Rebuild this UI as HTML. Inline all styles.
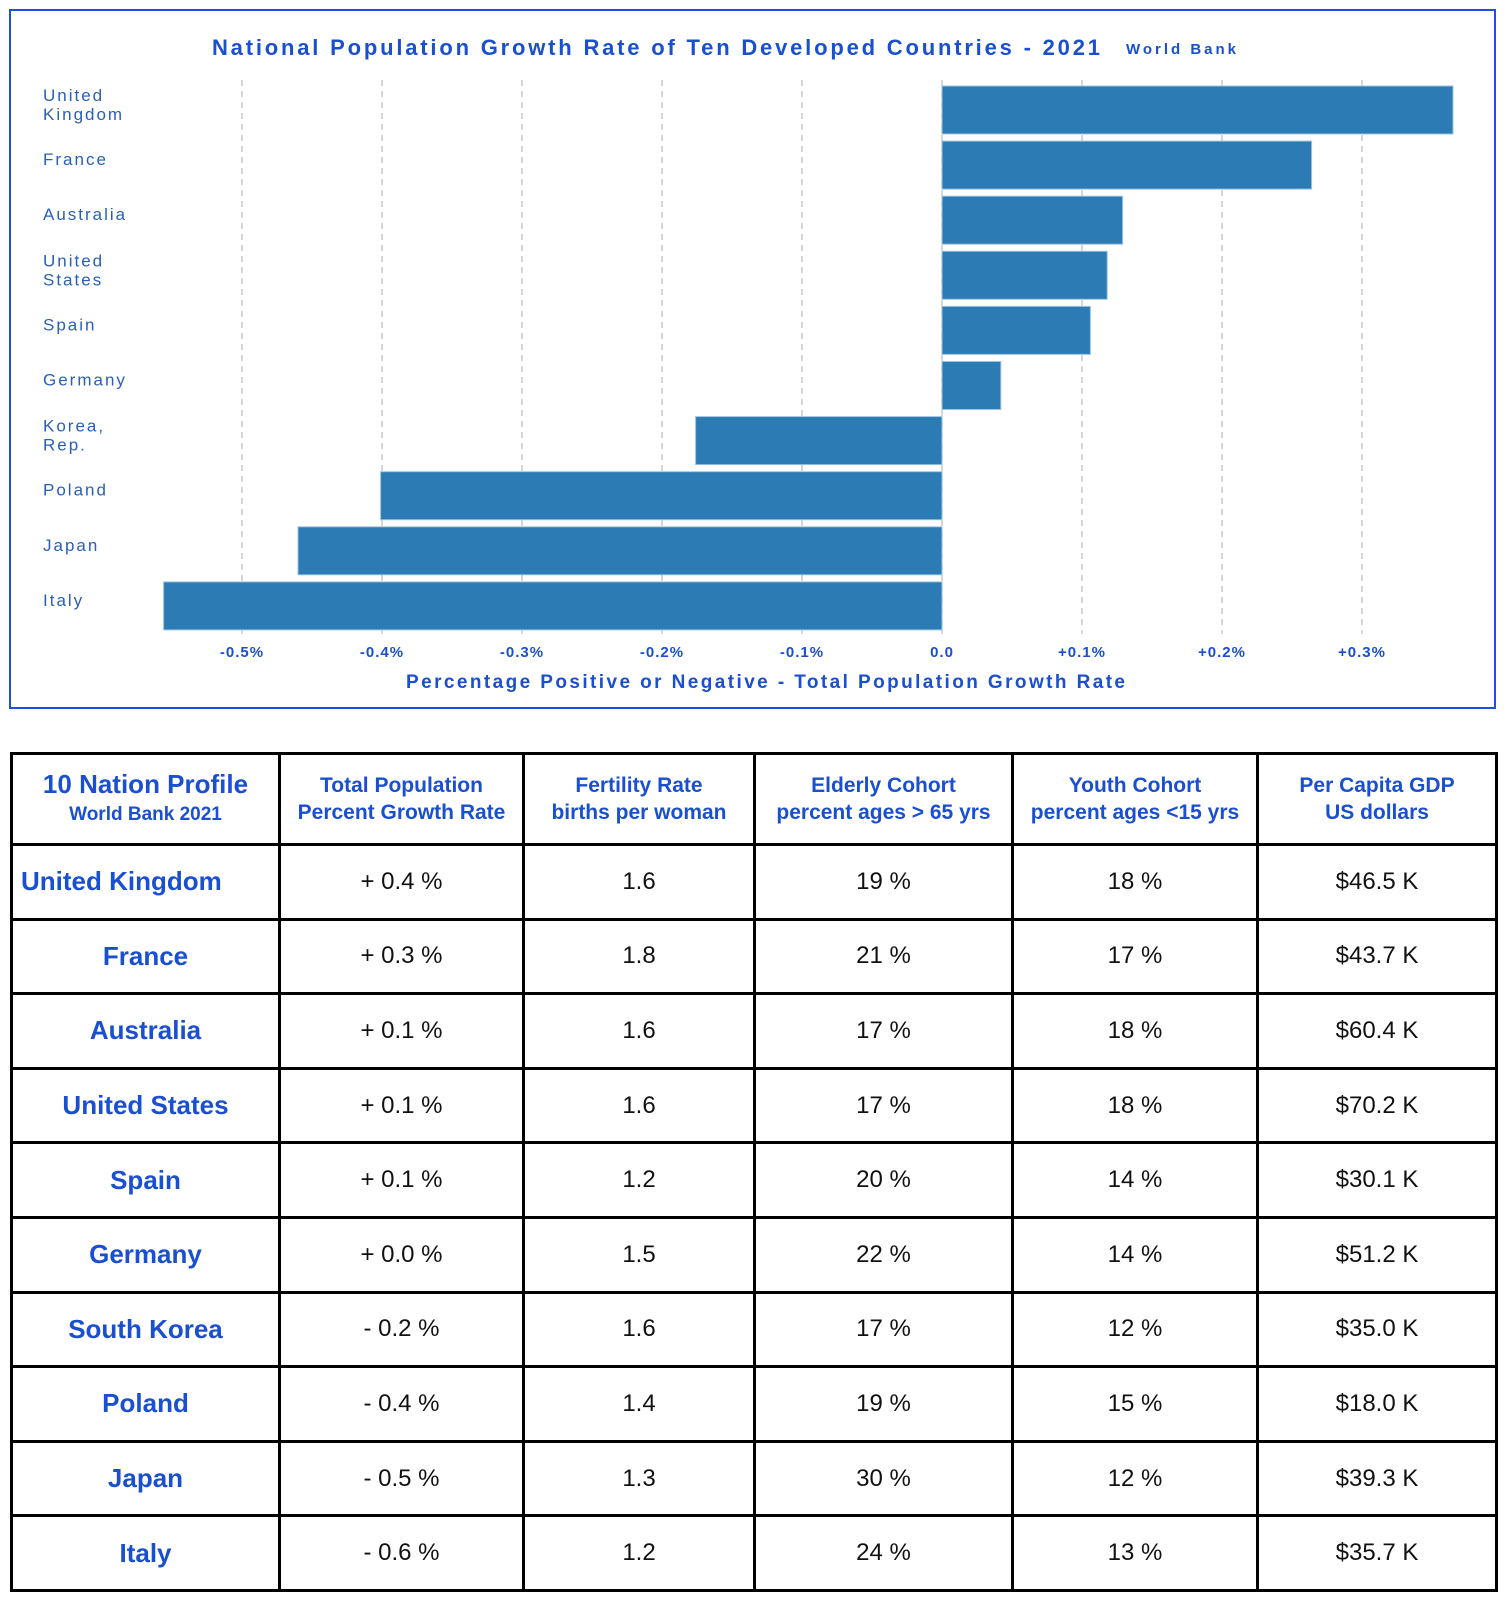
<!DOCTYPE html>
<html><head><meta charset="utf-8">
<style>
body{margin:0;width:1509px;height:1600px;background:#fff;position:relative;overflow:hidden;font-family:"Liberation Sans",sans-serif;}
#frame{position:absolute;left:9px;top:9px;width:1487px;height:700px;border:2px solid #1f4fe0;box-sizing:border-box;}
svg{position:absolute;left:0;top:0;}
table{position:absolute;left:10px;top:752px;width:1485px;border-collapse:collapse;table-layout:fixed;}
td{border:3px solid #000;text-align:center;font-size:24px;color:#111;padding:0;}
tr.h td{color:#1a4fd0;font-weight:bold;font-size:21px;line-height:27px;height:88px;}
tr.r td{height:71.6px;}
td.c{color:#1a4fd0;font-weight:bold;font-size:26px;}
</style></head><body>
<div id="frame"></div>
<svg id="chart" width="1509" height="720"></svg>
<table>
<colgroup><col style="width:268px"><col style="width:244px"><col style="width:231px"><col style="width:258px"><col style="width:245px"><col style="width:239px"></colgroup>
<tr class="h">
<td><span style="font-size:26px">10 Nation Profile</span><br><span style="font-size:19px">World Bank 2021</span></td>
<td>Total Population<br>Percent Growth Rate</td>
<td>Fertility Rate<br>births per woman</td>
<td>Elderly Cohort<br>percent ages &gt; 65 yrs</td>
<td>Youth Cohort<br>percent ages &lt;15 yrs</td>
<td>Per Capita GDP<br>US dollars</td>
</tr>
<tr class="r"><td class="c" style="text-align:left;padding-left:8px">United Kingdom</td><td>+ 0.4 %</td><td>1.6</td><td>19 %</td><td>18 %</td><td>$46.5 K</td></tr>
<tr class="r"><td class="c">France</td><td>+ 0.3 %</td><td>1.8</td><td>21 %</td><td>17 %</td><td>$43.7 K</td></tr>
<tr class="r"><td class="c">Australia</td><td>+ 0.1 %</td><td>1.6</td><td>17 %</td><td>18 %</td><td>$60.4 K</td></tr>
<tr class="r"><td class="c">United States</td><td>+ 0.1 %</td><td>1.6</td><td>17 %</td><td>18 %</td><td>$70.2 K</td></tr>
<tr class="r"><td class="c">Spain</td><td>+ 0.1 %</td><td>1.2</td><td>20 %</td><td>14 %</td><td>$30.1 K</td></tr>
<tr class="r"><td class="c">Germany</td><td>+ 0.0 %</td><td>1.5</td><td>22 %</td><td>14 %</td><td>$51.2 K</td></tr>
<tr class="r"><td class="c">South Korea</td><td>- 0.2 %</td><td>1.6</td><td>17 %</td><td>12 %</td><td>$35.0 K</td></tr>
<tr class="r"><td class="c">Poland</td><td>- 0.4 %</td><td>1.4</td><td>19 %</td><td>15 %</td><td>$18.0 K</td></tr>
<tr class="r"><td class="c">Japan</td><td>- 0.5 %</td><td>1.3</td><td>30 %</td><td>12 %</td><td>$39.3 K</td></tr>
<tr class="r"><td class="c">Italy</td><td>- 0.6 %</td><td>1.2</td><td>24 %</td><td>13 %</td><td>$35.7 K</td></tr>
</table>
<script>
const categories=[["United","Kingdom"],["France"],["Australia"],["United","States"],["Spain"],["Germany"],["Korea,","Rep."],["Poland"],["Japan"],["Italy"]];
const growthValues=[0.365,0.264,0.129,0.118,0.106,0.042,-0.176,-0.401,-0.460,-0.556];
const tickValues=[-0.5,-0.4,-0.3,-0.2,-0.1,0,0.1,0.2,0.3];
const tickLabels=["-0.5%","-0.4%","-0.3%","-0.2%","-0.1%","0.0","+0.1%","+0.2%","+0.3%"];
const NS="http://www.w3.org/2000/svg";
const svg=document.getElementById('chart');
const x=v=>942+v*1400;
const yTop=i=>86+i*55.1;
const BH=48;
const BLUE="#1a4fd0";
function mk(t,a){const e=document.createElementNS(NS,t);for(const k in a)e.setAttribute(k,a[k]);svg.appendChild(e);return e;}
tickValues.forEach((v,i)=>{
  const g=mk('line',{x1:x(v),x2:x(v),y1:80,y2:634,stroke:'#c8c8c8','stroke-width':1.5,'stroke-dasharray':'6,5'});
  
  
  const t=mk('text',{x:x(v),y:657,'text-anchor':'middle','font-size':15,'font-weight':'bold',fill:BLUE,'letter-spacing':'1'});
  t.textContent=tickLabels[i];
  
  
});
growthValues.forEach((v,i)=>{
  const x0=Math.min(x(0),x(v)),w=Math.abs(x(v)-x(0));
  const r=mk('rect',{x:x0,y:yTop(i),width:w,height:BH,fill:'#2c7bb4',stroke:'#9cc3e0','stroke-width':1});
  
  
  const lines=categories[i];
  const t=mk('text',{x:43,'font-size':17,fill:'#2a5fb8','letter-spacing':'2'});
  
  
  lines.forEach((s,j)=>{const ts=document.createElementNS(NS,'tspan');ts.setAttribute('x',43);ts.setAttribute('y',yTop(i)+(lines.length>1?15+j*19:24));ts.textContent=s;t.appendChild(ts);});
});
const title=mk('text',{x:212,y:55,'font-size':22,'font-weight':'bold',fill:BLUE,textLength:888,lengthAdjust:'spacing'});
title.textContent="National Population Growth Rate of Ten Developed Countries - 2021";


const src=mk('text',{x:1126,y:54,'font-size':15,'font-weight':'bold',fill:BLUE,textLength:110,lengthAdjust:'spacing'});
src.textContent="World Bank";


const xt=mk('text',{x:406,y:688,'font-size':19,'font-weight':'bold',fill:BLUE,textLength:719,lengthAdjust:'spacing'});
xt.textContent="Percentage Positive or Negative - Total Population Growth Rate";


</script>
</body></html>
